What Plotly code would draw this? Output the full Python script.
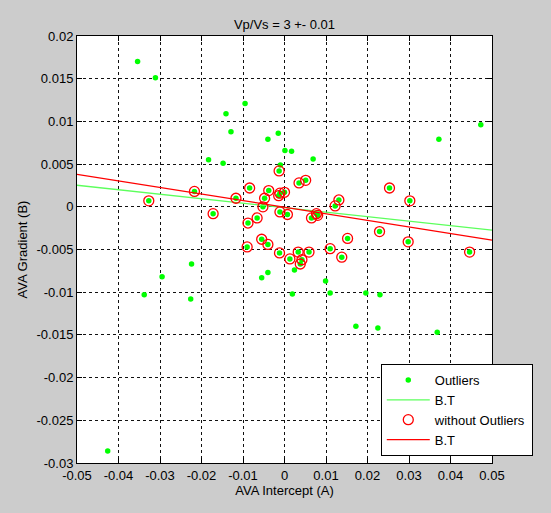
import plotly.graph_objects as go

# AVA intercept (A) / gradient (B) pairs flagged as outliers
out_a = [-0.0354, -0.0311, -0.0095, -0.0141, -0.0129, -0.0040, -0.0015, -0.0183,
         -0.0148, 0.0001, 0.0017, 0.0069, 0.0372, 0.0473, -0.0010, -0.0224,
         -0.0295, -0.0338, -0.0226, -0.0055, -0.0040, 0.0024, 0.0099, 0.0019,
         0.0110, 0.0196, 0.0230, 0.0172, 0.0225, 0.0368, -0.0426]
out_b = [0.0170, 0.0151, 0.0121, 0.0109, 0.0088, 0.0079, 0.0086, 0.0055,
         0.0051, 0.0066, 0.0065, 0.0056, 0.0079, 0.0096, 0.0049, -0.0067,
         -0.0082, -0.0103, -0.0108, -0.0083, -0.0077, -0.0074, -0.0087, -0.0102,
         -0.0101, -0.0101, -0.0103, -0.0140, -0.0142, -0.0147, -0.0286]

# Samples kept after outlier removal
in_a = [-0.0327, -0.0217, -0.0172, -0.0117, -0.0084, -0.0088, -0.0066, -0.0090,
        -0.0055, -0.0040, -0.0052, -0.0048, -0.0038, -0.0013, -0.0014, -0.0011,
        0.0000, -0.0011, 0.0007, -0.0012, 0.0035, 0.0051, 0.0065, 0.0077,
        0.0080, 0.0122, 0.0131, 0.0253, 0.0302, 0.0229, 0.0152, 0.0298,
        0.0446, 0.0110, 0.0138, 0.0059, 0.0033, 0.0013, 0.0042, 0.0038]
in_b = [0.0007, 0.0018, -0.0008, 0.0010, 0.0022, -0.0019, -0.0013, -0.0047,
        -0.0038, -0.0044, 0.0000, 0.0010, 0.0019, 0.0042, 0.0013, 0.0016,
        0.0017, -0.0006, -0.0009, -0.0054, 0.0028, 0.0031, -0.0013, -0.0008,
        -0.0010, 0.0001, 0.0008, 0.0022, 0.0007, -0.0029, -0.0037, -0.0041,
        -0.0053, -0.0049, -0.0059, -0.0053, -0.0053, -0.0061, -0.0062, -0.0067]

# Best-trend lines: (slope, intercept) of B against A
fit_all = (-0.0525, -0.0001)
fit_clean = (-0.0770, -0.00005)

x_ticks = [-0.05, -0.04, -0.03, -0.02, -0.01, 0, 0.01, 0.02, 0.03, 0.04, 0.05]
x_labels = ["-0.05", "-0.04", "-0.03", "-0.02", "-0.01", "0", "0.01", "0.02", "0.03", "0.04", "0.05"]
y_ticks = [0.02, 0.015, 0.01, 0.005, 0, -0.005, -0.01, -0.015, -0.02, -0.025, -0.03]
y_labels = ["0.02", "0.015", "0.01", "0.005", "0", "-0.005", "-0.01", "-0.015", "-0.02", "-0.025", "-0.03"]

x_range = [-0.05, 0.05]
y_range = [-0.03, 0.02]

all_a = out_a + in_a
all_b = out_b + in_b


def line_y(fit, xs):
    return [fit[0] * x + fit[1] for x in xs]


FONT = "Liberation Sans, Arial, sans-serif"
FS = 13

fig = go.Figure()
fig.add_trace(go.Scatter(
    x=all_a, y=all_b, mode="markers", name="Outliers",
    marker=dict(symbol="circle", size=5.5, color="#00ff00", line=dict(width=0)),
))
fig.add_trace(go.Scatter(
    x=x_range, y=line_y(fit_all, x_range), mode="lines", name="B.T",
    line=dict(color="#5cff5c", width=1.3),
))
fig.add_trace(go.Scatter(
    x=in_a, y=in_b, mode="markers", name="without Outliers",
    marker=dict(symbol="circle-open", size=10, color="#ff0000", line=dict(width=1.3, color="#ff0000")),
))
fig.add_trace(go.Scatter(
    x=x_range, y=line_y(fit_clean, x_range), mode="lines", name="B.T",
    line=dict(color="#ff0000", width=1.3),
))

axis_common = dict(
    showline=True, linecolor="black", linewidth=1, mirror="ticks",
    ticks="inside", ticklen=5, tickcolor="black",
    showgrid=True, gridcolor="#111111", gridwidth=1, griddash="3px,3px",
    zeroline=False, tickfont=dict(family=FONT, size=FS, color="black"),
)

fig.update_xaxes(range=x_range, tickvals=x_ticks, ticktext=x_labels,
                 title=dict(text="AVA Intercept (A)", standoff=4,
                            font=dict(family=FONT, size=FS, color="black")),
                 **axis_common)
fig.update_yaxes(range=y_range, tickvals=y_ticks, ticktext=y_labels,
                 title=dict(text="AVA Gradient (B)", standoff=5,
                            font=dict(family=FONT, size=FS, color="black")),
                 **axis_common)

fig.update_layout(
    width=551, height=513,
    margin=dict(l=77, r=59, t=36, b=50),
    paper_bgcolor="#cccccc", plot_bgcolor="white",
    title=dict(text="Vp/Vs = 3 +- 0.01", x=0.5, xref="paper", xanchor="center",
               y=1 - 24 / 513, yref="container", yanchor="middle",
               font=dict(family=FONT, size=FS, color="black")),
    font=dict(family=FONT, size=FS, color="black"),
    legend=dict(x=0.732, y=0.232, xanchor="left", yanchor="top",
                bgcolor="white", bordercolor="black", borderwidth=1,
                font=dict(family=FONT, size=FS, color="black"),
                itemwidth=43, tracegroupgap=0),
    showlegend=True,
)

fig.write_html("out.html")
